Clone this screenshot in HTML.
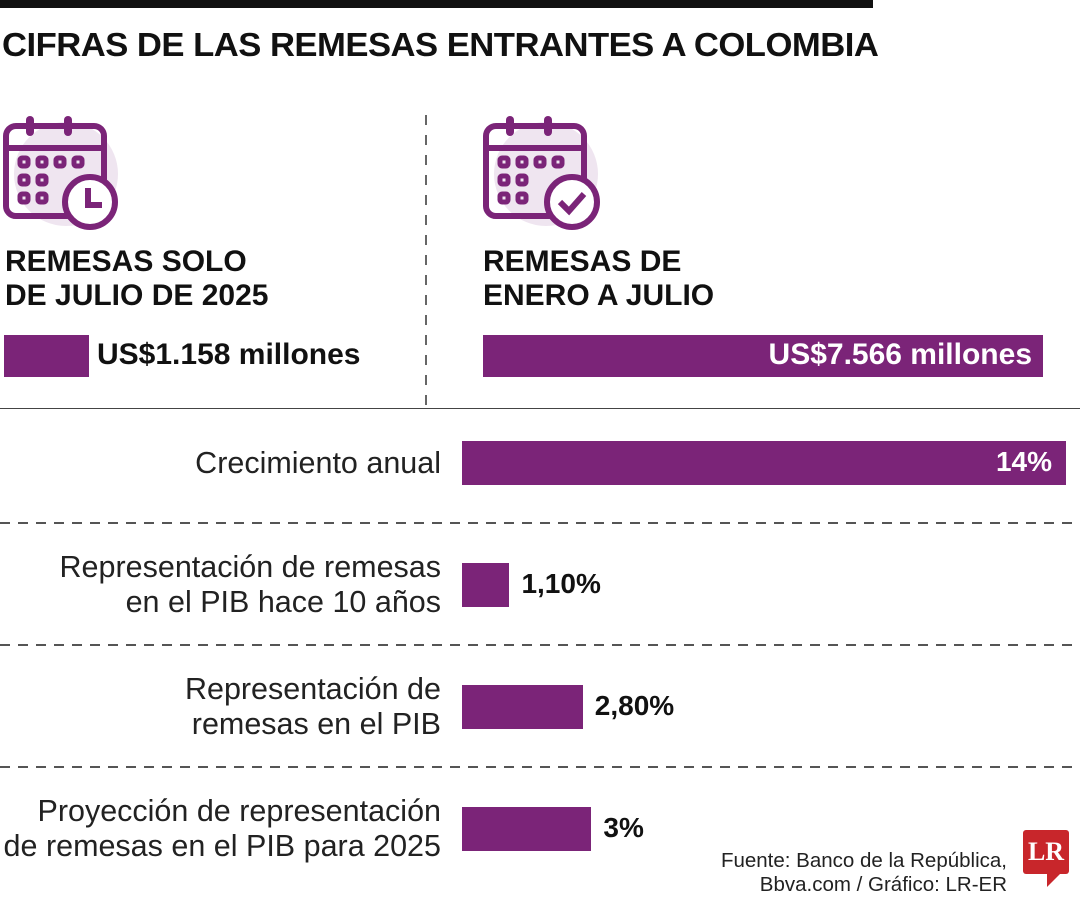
<!DOCTYPE html>
<html><head><meta charset="utf-8"><style>
body{margin:0;width:1080px;height:900px;background:#fff;font-family:"Liberation Sans",sans-serif;position:relative;overflow:hidden}
.a{position:absolute}
.h{font-weight:bold;font-size:30px;line-height:34px;color:#111}
.lbl{position:absolute;right:639px;text-align:right;font-size:30.5px;line-height:35px;color:#222;white-space:nowrap}
.val{position:absolute;font-weight:bold;font-size:28px;color:#111}
.dash{position:absolute;left:0;width:1080px;height:1.5px;background:repeating-linear-gradient(90deg,#555 0 10px,transparent 10px 18px)}
</style></head><body>
<div class="a" style="left:0;top:0;width:873px;height:8px;background:#111"></div>
<div class="a" style="left:2px;top:26px;font-weight:bold;font-size:33px;letter-spacing:-0.5px;color:#111;transform:scaleX(1.05);transform-origin:left;white-space:nowrap">CIFRAS DE LAS REMESAS ENTRANTES A COLOMBIA</div>
<svg class="a" style="left:0;top:112px" width="125" height="120" viewBox="0 0 125 120">
<circle cx="66" cy="62" r="52" fill="#efe5f0"/>
<rect x="6" y="14" width="98" height="90" rx="10" fill="none" stroke="#7b2478" stroke-width="6"/>
<line x1="6" y1="36" x2="104" y2="36" stroke="#7b2478" stroke-width="6"/>
<rect x="26" y="4" width="8" height="20" rx="4" fill="#7b2478"/><rect x="64" y="4" width="8" height="20" rx="4" fill="#7b2478"/>
<g fill="none" stroke="#7b2478" stroke-width="5"><rect x="20" y="46" width="8" height="8" rx="2"/><rect x="38" y="46" width="8" height="8" rx="2"/><rect x="56" y="46" width="8" height="8" rx="2"/><rect x="74" y="46" width="8" height="8" rx="2"/><rect x="20" y="64" width="8" height="8" rx="2"/><rect x="38" y="64" width="8" height="8" rx="2"/><rect x="20" y="82" width="8" height="8" rx="2"/><rect x="38" y="82" width="8" height="8" rx="2"/></g>
<circle cx="90" cy="90" r="25" fill="#fff" stroke="#7b2478" stroke-width="6"/>
<path d="M88 76 V93 H102" fill="none" stroke="#7b2478" stroke-width="6"/>
</svg>
<svg class="a" style="left:480px;top:112px" width="125" height="120" viewBox="0 0 125 120">
<circle cx="66" cy="62" r="52" fill="#efe5f0"/>
<rect x="6" y="14" width="98" height="90" rx="10" fill="none" stroke="#7b2478" stroke-width="6"/>
<line x1="6" y1="36" x2="104" y2="36" stroke="#7b2478" stroke-width="6"/>
<rect x="26" y="4" width="8" height="20" rx="4" fill="#7b2478"/><rect x="64" y="4" width="8" height="20" rx="4" fill="#7b2478"/>
<g fill="none" stroke="#7b2478" stroke-width="5"><rect x="20" y="46" width="8" height="8" rx="2"/><rect x="38" y="46" width="8" height="8" rx="2"/><rect x="56" y="46" width="8" height="8" rx="2"/><rect x="74" y="46" width="8" height="8" rx="2"/><rect x="20" y="64" width="8" height="8" rx="2"/><rect x="38" y="64" width="8" height="8" rx="2"/><rect x="20" y="82" width="8" height="8" rx="2"/><rect x="38" y="82" width="8" height="8" rx="2"/></g>
<circle cx="92" cy="90" r="25" fill="#fff" stroke="#7b2478" stroke-width="6"/>
<path d="M80 90 L89 99 L104 82" fill="none" stroke="#7b2478" stroke-width="6"/>
</svg>
<div class="a" style="left:425px;top:115px;width:1.5px;height:292px;background:repeating-linear-gradient(180deg,#666 0 10px,transparent 10px 20px)"></div>
<div class="a h" style="left:5px;top:245px">REMESAS SOLO<br>DE JULIO DE 2025</div>
<div class="a h" style="left:483px;top:245px">REMESAS DE<br>ENERO A JULIO</div>
<div class="a" style="left:4px;top:335px;width:85px;height:42px;background:#7b2478"></div>
<div class="a" style="left:97px;top:338px;font-weight:bold;font-size:30px;color:#111">US$1.158 millones</div>
<div class="a" style="left:483px;top:335px;width:560px;height:42px;background:#7b2478"></div>
<div class="a" style="right:48px;top:338px;font-weight:bold;font-size:30px;color:#fff">US$7.566 millones</div>
<div class="a" style="left:0;top:408px;width:1080px;border-top:1.5px solid #444"></div>
<div id="rows"></div>
<div class="a" style="right:73px;top:849px;text-align:right;font-size:20.5px;line-height:24px;color:#222">Fuente: Banco de la República,<br>Bbva.com / Gráfico: LR-ER</div>
<div class="a" style="left:1023px;top:830px;width:46px;height:44px;background:#c8262b;color:#fff;font-family:'Liberation Serif',serif;font-weight:bold;font-size:26px;text-align:center;line-height:44px;border-radius:3px">LR</div>
<div class="a" style="left:1047px;top:873px;width:0;height:0;border-right:14px solid transparent;border-top:14px solid #c8262b"></div>
<script>
const labels=["Crecimiento anual","Representación de remesas<br>en el PIB hace 10 años","Representación de<br>remesas en el PIB","Proyección de representación<br>de remesas en el PIB para 2025"];
const values=[14,1.10,2.80,3];
const valueText=["14%","1,10%","2,80%","3%"];
const root=document.getElementById('rows');
const x0=462,scale=604/14,rowTop=441,rowStep=122,barH=44;
function xs(v){return v*scale;}
values.forEach((v,i)=>{
  const y=rowTop+i*rowStep;
  const l=document.createElement('div');l.className='lbl';l.innerHTML=labels[i];
  const lines=labels[i].split('<br>').length;
  l.style.top=(y+barH/2-lines*17.5)+'px';
  
  
  root.appendChild(l);
  const b=document.createElement('div');b.className='a';
  b.style.cssText=`left:${x0}px;top:${y}px;width:${xs(v)}px;height:${barH}px;background:#7b2478`;
  
  
  root.appendChild(b);
  const t=document.createElement('div');t.className='val';t.textContent=valueText[i];
  t.style.top=(y+5)+'px';
  if(xs(v)>300){t.style.right=(1080-x0-xs(v)+14)+'px';t.style.color='#fff';}
  else t.style.left=(x0+xs(v)+12)+'px';
  
  
  root.appendChild(t);
  if(i<values.length-1){const d=document.createElement('div');d.className='dash';d.style.top=(y+81)+'px';
  
  
  root.appendChild(d);}
});
</script>
</body></html>
